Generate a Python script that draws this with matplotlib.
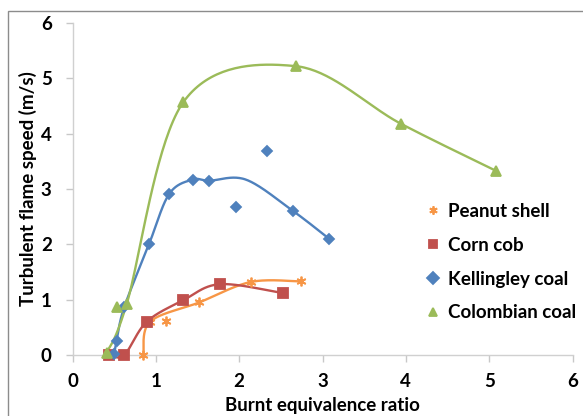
import matplotlib
matplotlib.use("Agg")
import matplotlib.pyplot as plt
import numpy as np
from matplotlib.patches import Rectangle

# -----------------------------
#  data
# -----------------------------
series_names = ["Peanut shell", "Corn cob", "Kellingley coal", "Colombian coal"]

# points joined by the smoothed line
peanut_x = [0.85, 0.93, 1.52, 2.14, 2.74]
peanut_y = [0.00, 0.60, 0.95, 1.32, 1.33]
corn_x = [0.44, 0.62, 0.89, 1.33, 1.77, 2.52]
corn_y = [0.00, 0.00, 0.60, 0.99, 1.28, 1.12]
kell_x = [0.50, 0.53, 0.62, 0.92, 1.16, 1.44, 1.64, 2.08, 2.64, 3.08]
kell_y = [0.02, 0.26, 0.86, 2.01, 2.91, 3.17, 3.15, 3.17, 2.61, 2.10]
colo_x = [0.41, 0.65, 1.33, 2.68, 3.94, 5.08]
colo_y = [0.04, 0.92, 4.57, 5.22, 4.18, 3.33]

# measured points (markers)
peanut_mx = [0.85, 0.93, 1.12, 1.52, 2.14, 2.74]
peanut_my = [0.00, 0.60, 0.62, 0.95, 1.32, 1.33]
corn_mx = corn_x
corn_my = corn_y
kell_mx = [0.50, 0.53, 0.62, 0.92, 1.16, 1.44, 1.64, 1.96, 2.33, 2.64, 3.08]
kell_my = [0.02, 0.26, 0.86, 2.01, 2.91, 3.17, 3.15, 2.67, 3.68, 2.61, 2.10]
colo_mx = [0.41, 0.53, 0.65, 1.33, 2.68, 3.94, 5.08]
colo_my = [0.04, 0.86, 0.92, 4.57, 5.22, 4.18, 3.33]

x_ticks = [0, 1, 2, 3, 4, 5, 6]
y_ticks = [0, 1, 2, 3, 4, 5, 6]

COLORS = ["#F79646", "#C0504D", "#4F81BD", "#9BBB59"]
MARKERS = [(6, 2, 0), "s", "D", "^"]
MSIZES = [7, 7, 5, 7]

FONT = "Lato"
FS = 13.5


def smooth(xs, ys, n=40):
    """Catmull-Rom / bezier smoothing like Excel's 'smoothed line'."""
    p = np.column_stack([xs, ys]).astype(float)
    pts = np.vstack([p[0], p, p[-1]])
    out = []
    t = np.linspace(0, 1, n)
    for i in range(1, len(pts) - 2):
        p0, p1, p2, p3 = pts[i - 1], pts[i], pts[i + 1], pts[i + 2]
        c1 = p1 + (p2 - p0) / 6.0
        c2 = p2 - (p3 - p1) / 6.0
        seg = (((1 - t) ** 3)[:, None] * p1 + (3 * (1 - t) ** 2 * t)[:, None] * c1
               + (3 * (1 - t) * t ** 2)[:, None] * c2 + (t ** 3)[:, None] * p2)
        out.append(seg)
    out = np.vstack(out)
    return out[:, 0], out[:, 1]


fig = plt.figure(figsize=(5.83, 4.16), dpi=100)
ax = fig.add_axes([72.5 / 583, 61 / 416, 500 / 583, 332 / 416])

curves = [(peanut_x, peanut_y), (corn_x, corn_y), (kell_x, kell_y), (colo_x, colo_y)]
marks = [(peanut_mx, peanut_my), (corn_mx, corn_my), (kell_mx, kell_my), (colo_mx, colo_my)]

handles = []
for i, name in enumerate(series_names):
    sx, sy = smooth(*curves[i])
    ax.plot(sx, sy, color=COLORS[i], lw=1.7, zorder=2, clip_on=False)
    h, = ax.plot(marks[i][0], marks[i][1], linestyle="none", marker=MARKERS[i],
                 ms=MSIZES[i], color=COLORS[i], mec=COLORS[i], mew=1.3,
                 zorder=3, clip_on=False, label=name)
    handles.append(h)

ax.set_xlim(0, 6)
ax.set_ylim(0, 6)
ax.set_xticks(x_ticks)
ax.set_yticks(y_ticks)

for s in ["top", "right"]:
    ax.spines[s].set_visible(False)
for s in ["left", "bottom"]:
    ax.spines[s].set_color("#d0d0d0")
    ax.spines[s].set_linewidth(1.0)
ax.tick_params(axis="both", direction="out", length=5, width=1.0, color="#c8c8c8",
               labelsize=FS)
ax.tick_params(axis="y", pad=10)
ax.tick_params(axis="x", pad=8)
for lab in ax.get_xticklabels() + ax.get_yticklabels():
    lab.set_fontfamily(FONT)
    lab.set_fontweight("bold")

ax.set_xlabel("Burnt equivalence ratio", fontsize=FS, fontweight="bold",
              family=FONT, labelpad=5)
ax.set_ylabel("Turbulent flame speed (m/s)", fontsize=FS, fontweight="bold",
              family=FONT)
ax.yaxis.set_label_coords(-0.07, 0.5)

leg = fig.legend(handles=handles, loc="upper left", bbox_to_anchor=(410 / 583, 1 - 186 / 416),
                 frameon=False, handlelength=0.7, handletextpad=0.4, labelspacing=0.9,
                 prop={"family": FONT, "weight": "bold", "size": FS})
for lh in leg.legend_handles:
    lh.set_markersize(6)

# outer chart-area border (only top and left edges are visible in the crop)
fig.patches.append(Rectangle((8 / 583, -0.1), 1.2, 1.1 - 10.5 / 416,
                             transform=fig.transFigure, fill=False,
                             edgecolor="#8c8c8c", lw=1.0, zorder=0))

fig.savefig("out.png", dpi=100)
